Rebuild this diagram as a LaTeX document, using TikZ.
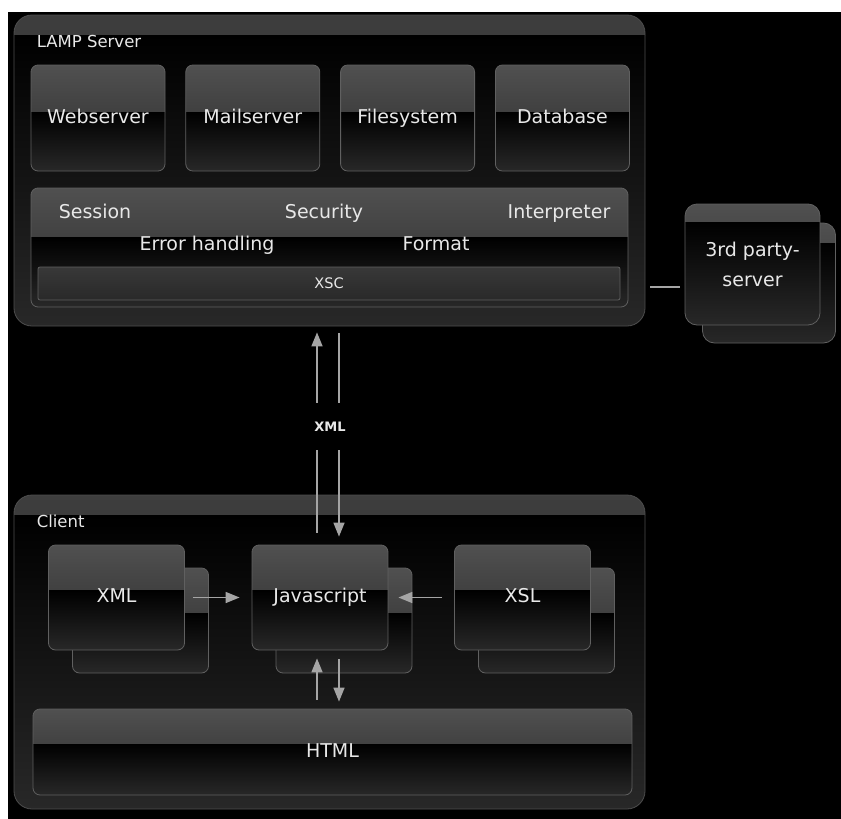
\documentclass[tikz,border=0pt]{standalone}
\usepackage{fontspec}
\setmainfont{DejaVu Sans}
\usetikzlibrary{positioning, arrows.meta}
\definecolor{glosstop}{RGB}{80,80,80}
\definecolor{glossmid}{RGB}{44,44,44}
\definecolor{glossbot}{RGB}{40,40,40}
\definecolor{bandtop}{RGB}{62,62,62}
\definecolor{bandmid}{RGB}{30,30,30}
\definecolor{boxedge}{RGB}{96,96,96}
\definecolor{labeltext}{RGB}{232,232,232}
\definecolor{wiregray}{RGB}{165,165,165}
\newcommand\boxfont{\fontsize{19}{22}\selectfont}
\newcommand\titlefont{\fontsize{16.5}{19}\selectfont}

\tikzset{
  gloss/.style={draw=boxedge, line width=0.8pt, rounded corners=7pt, text=labeltext, inner sep=0pt,
    text height=14pt, text depth=4pt,
    path picture={
      \fill[sharp corners, top color=glosstop, bottom color=glossmid] (path picture bounding box.north west) rectangle ([yshift=#1]path picture bounding box.east);
      \fill[sharp corners, top color=black, bottom color=glossbot] ([yshift=#1]path picture bounding box.west) rectangle (path picture bounding box.south east);
    }},
  gloss/.default=6pt,
  container/.style={draw=boxedge!80!black, line width=0.8pt, rounded corners=18pt, minimum width=631pt, inner sep=0pt,
    path picture={
      \fill[sharp corners, top color=bandtop, bottom color=bandmid] (path picture bounding box.north west) rectangle ([yshift=-20pt]path picture bounding box.north east);
      \fill[sharp corners, top color=black, bottom color=glossbot] ([yshift=-20pt]path picture bounding box.north west) rectangle (path picture bounding box.south east);
    }},
  unit/.style={gloss, minimum width=134pt, minimum height=106pt, font=\boxfont},
  cunit/.style={gloss=7pt, minimum width=136pt, minimum height=105pt, font=\boxfont},
  title/.style={text=labeltext, font=\titlefont, inner sep=0pt},
  plain/.style={text=labeltext, font=\boxfont, inner sep=0pt, text height=14pt, text depth=4pt},
  wire/.style={draw=wiregray, line width=1.6pt},
  tip/.style={-{Triangle[length=14pt,width=11pt]}}
}

\begin{document}
\begin{tikzpicture}[x=1pt, y=1pt]
		\useasboundingbox (0,0) rectangle (841,-819);
		\fill[white] (0,0) rectangle (841,-819);
		\fill[black] (8,-12) rectangle (841,-819);
		% LAMP server
		\node[container, minimum height=311pt] (lamp) at (329.5,-170.5) {};
		\node[title, anchor=west] (lamptitle) at ([shift={(23,-27)}]lamp.north west) {LAMP Server};
		\node[unit] (web) at (98,-118) {Webserver};
		\node[unit, right=20pt of web] (mail) {Mailserver};
		\node[unit, right=20pt of mail] (files) {Filesystem};
		\node[unit, right=20pt of files] (db) {Database};
		\node[gloss=10pt, minimum width=597pt, minimum height=119pt] (core) at (329.5,-247.5) {};
		\node[plain] (session) at (95,-213) {Session};
		\node[plain] (security) at (324,-213) {Security};
		\node[plain] (interp) at (559,-213) {Interpreter};
		\node[plain] (errors) at (207,-245) {Error handling};
		\node[plain] (format) at (436,-245) {Format};
		\node[draw=boxedge, line width=0.8pt, rounded corners=2pt, top color=black!78, bottom color=black!84,
		      text=labeltext, font=\fontsize{14.5}{17}\selectfont, minimum width=582pt, minimum height=33pt] (xsc) at (329,-283.5) {XSC};
		% 3rd party server
		\node[gloss=40pt, rounded corners=12pt, minimum width=133pt, minimum height=120pt] (tpback) at (769,-283) {};
		\node[gloss=42pt, rounded corners=12pt, minimum width=135pt, minimum height=121pt, align=center,
		      font=\fontsize{19}{30}\selectfont, text height=, text depth=] (tp) at (752.5,-264.5) {3rd party-\\server};
		\coordinate (tplink) at (752.5,-287);
		\draw[wire, shorten <=5pt, shorten >=5pt] (tp.west |- tplink) -- (lamp.east |- tplink);
		% client
		\node[container, minimum height=314pt] (client) at (329.5,-652) {};
		\node[title, anchor=west] (clienttitle) at ([shift={(23,-27)}]client.north west) {Client};
		\node[cunit] (xmlback) at (140.5,-620.5) {};
		\node[cunit] (jsback) at (344,-620.5) {};
		\node[cunit] (xslback) at (546.5,-620.5) {};
		\node[cunit] (xml) at (116.5,-597.5) {XML};
		\node[cunit] (js) at (320,-597.5) {Javascript};
		\node[cunit] (xsl) at (522.5,-597.5) {XSL};
		\node[gloss=8pt, minimum width=599pt, minimum height=86pt, font=\boxfont] (html) at (332.5,-752) {HTML};
		% connectors
		\coordinate (upx) at (317,0);
		\coordinate (dnx) at (339,0);
		\node[text=labeltext, font=\bfseries\fontsize{13}{15}\selectfont, minimum height=47pt, inner sep=0pt] (xmltag) at (330,-426.5) {XML};
		\draw[wire, tip, shorten >=6pt] (xmltag.north -| upx) -- (lamp.south -| upx);
		\draw[wire, shorten <=7pt] (lamp.south -| dnx) -- (xmltag.north -| dnx);
		\draw[wire, shorten <=12pt] (js.north -| upx) -- (xmltag.south -| upx);
		\draw[wire, tip, shorten >=8pt] (xmltag.south -| dnx) -- (js.north -| dnx);
		\draw[wire, tip, shorten <=8pt, shorten >=12pt] (xml.east) -- (js.west);
		\draw[wire, tip, shorten <=12pt, shorten >=10pt] (xsl.west) -- (js.east);
		\draw[wire, tip, shorten <=9pt, shorten >=8pt] (html.north -| upx) -- (js.south -| upx);
		\draw[wire, tip, shorten <=9pt, shorten >=7pt] (js.south -| dnx) -- (html.north -| dnx);
	\end{tikzpicture}
\end{document}
